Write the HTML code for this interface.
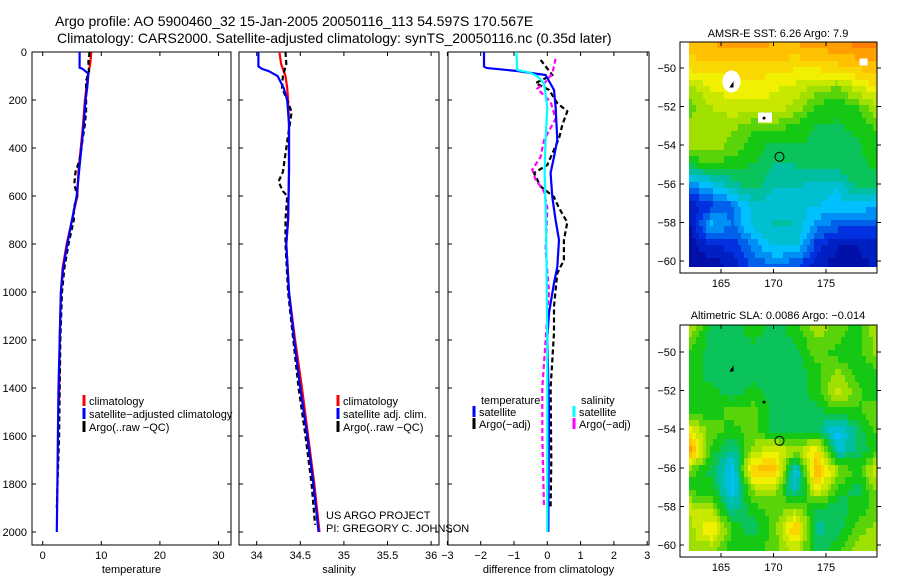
<!DOCTYPE html>
<html><head><meta charset="utf-8"><style>
body{margin:0;background:#fff}
svg{display:block;font-family:"Liberation Sans",sans-serif}
</style></head><body>
<svg id="c" width="900" height="580" xmlns="http://www.w3.org/2000/svg">
<text x="55" y="26" font-size="14">Argo profile: AO 5900460_32 15-Jan-2005 20050116_113 54.597S 170.567E</text>
<text x="57" y="43" font-size="14">Climatology: CARS2000. Satellite-adjusted climatology: synTS_20050116.nc (0.35d later)</text>
<text x="778" y="37" font-size="11" text-anchor="middle">AMSR-E SST: 6.26 Argo: 7.9</text>
<text x="778" y="319" font-size="11" text-anchor="middle">Altimetric SLA: 0.0086 Argo: −0.014</text>
<text transform="translate(893,545) rotate(-90)" font-size="11">CSIRO 05−Aug−2005 12:21:13</text>
<text x="326" y="519" font-size="11">US ARGO PROJECT</text>
<text x="326" y="532" font-size="11">PI: GREGORY C. JOHNSON</text>
</svg>
<script>
// ---------- data ----------
const depthTicks=[0,200,400,600,800,1000,1200,1400,1600,1800,2000];
const tempTicks=[0,10,20,30];
const salTicks=[34,34.5,35,35.5,36];
const diffTicks=[-3,-2,-1,0,1,2,3];
const tClimD=[0,50,100,200,300,400,500,600,700,800,900,1000,1200,1450];
const tClimV=[8.3,8.1,7.7,7.2,6.9,6.5,6.1,5.9,5.0,4.1,3.4,3.1,2.9,2.8];
const tSatD=[0,65,70,90,150,200,300,400,500,600,700,800,900,1000,1200,1400,1600,1800,2000];
const tSatV=[6.3,6.3,6.8,7.8,7.6,7.3,7.0,6.6,6.2,5.8,5.0,4.2,3.5,3.1,2.9,2.7,2.6,2.5,2.4];
const tArgD=[0,40,80,120,200,250,300,350,400,450,500,550,600,650,700,800,900,1000,1200,1400,1600,1750,1900];
const tArgV=[8.0,7.8,7.9,7.4,7.4,7.4,7.2,6.9,6.6,6.3,5.6,5.4,5.9,5.3,5.3,4.4,3.7,3.3,3.0,2.9,2.8,2.6,2.4];
const sClimD=[0,50,100,150,200,300,500,700,800,1000,1200,1400,1600,1800,2000];
const sClimV=[34.26,34.28,34.33,34.35,34.36,34.37,34.37,34.36,34.34,34.37,34.44,34.52,34.59,34.66,34.72];
const sSatD=[0,60,70,80,100,150,200,300,500,700,800,1000,1200,1400,1600,1800,2000];
const sSatV=[34.02,34.02,34.06,34.14,34.24,34.31,34.35,34.37,34.37,34.36,34.34,34.37,34.43,34.5,34.58,34.65,34.71];
const sArgD=[0,50,100,150,200,250,300,400,500,540,580,600,700,800,1000,1200,1400,1600,1800,1970];
const sArgV=[34.33,34.34,34.3,34.29,34.35,34.4,34.38,34.34,34.3,34.25,34.3,34.35,34.33,34.33,34.36,34.42,34.48,34.56,34.63,34.67];
const dTSatD=[0,60,65,67,79,96,158,229,367,437,504,604,700,783,896,963,1088,1188,1500,2000];
const dTSatV=[-1.9,-1.9,-1.85,-1.8,-0.9,-0.05,0.2,0.25,0.3,0.2,0.1,0.15,0.25,0.35,0.3,0.2,0.05,0,0.05,0.03];
const dSSatD=[0,75,85,100,130,230,370,500,650,800,1200,2000];
const dSSatV=[-0.93,-0.9,-0.55,-0.3,-0.1,0,-0.05,-0.08,-0.05,-0.03,0,0];
const dTArgD=[33,96,129,158,213,247,304,360,471,504,560,604,650,710,783,867,922,1060,1170,1400,1700,1900];
const dTArgV=[-0.2,0.15,-0.35,0.05,0.3,0.6,0.45,0.35,0,-0.4,-0.2,0.2,0.35,0.6,0.5,0.5,0.3,0.2,0.2,0.1,0.12,0.1];
const dSArgD=[28,90,125,153,208,278,367,437,490,532,580,650,825,1000,1400,1600,1900];
const dSArgV=[0.25,0.15,-0.05,-0.3,0.1,0.25,-0.1,-0.2,-0.45,-0.35,-0.1,0,-0.05,0.05,-0.15,-0.15,-0.1];
const sstGrid=[
[0.82,0.82,0.84,0.84,0.82,0.82,0.84,0.86,0.88,0.9],
[0.72,0.74,0.74,0.74,0.74,0.72,0.72,0.74,0.77,0.8],
[0.6,0.68,0.7,0.7,0.68,0.65,0.6,0.55,0.65,0.72],
[0.55,0.62,0.65,0.65,0.65,0.6,0.5,0.48,0.52,0.62],
[0.62,0.6,0.58,0.52,0.55,0.5,0.47,0.47,0.48,0.55],
[0.6,0.6,0.55,0.5,0.45,0.47,0.47,0.47,0.47,0.5],
[0.45,0.5,0.48,0.47,0.42,0.42,0.45,0.45,0.47,0.48],
[0.22,0.3,0.4,0.45,0.38,0.38,0.35,0.33,0.45,0.42],
[0.1,0.15,0.22,0.35,0.35,0.33,0.33,0.3,0.3,0.3],
[0.08,0.3,0.22,0.35,0.38,0.38,0.25,0.2,0.2,0.18],
[0.05,0.12,0.15,0.25,0.35,0.35,0.15,0.08,0.08,0.12],
[0.05,0.05,0.1,0.2,0.22,0.2,0.1,0.05,0.05,0.1]];
const slaGrid=[
[0.6,0.45,0.45,0.5,0.45,0.5,0.6,0.55,0.5,0.65],
[0.5,0.45,0.45,0.45,0.45,0.45,0.55,0.5,0.5,0.6],
[0.5,0.45,0.45,0.45,0.45,0.45,0.5,0.6,0.5,0.5],
[0.5,0.5,0.45,0.5,0.45,0.45,0.5,0.65,0.55,0.45],
[0.5,0.5,0.55,0.55,0.45,0.45,0.45,0.5,0.5,0.6],
[0.7,0.55,0.5,0.55,0.45,0.45,0.45,0.3,0.45,0.55],
[0.85,0.5,0.4,0.6,0.7,0.6,0.75,0.35,0.45,0.5],
[0.55,0.45,0.3,0.8,0.8,0.3,0.85,0.6,0.5,0.75],
[0.5,0.5,0.3,0.6,0.6,0.35,0.7,0.5,0.45,0.6],
[0.65,0.6,0.4,0.5,0.55,0.6,0.45,0.45,0.5,0.55],
[0.6,0.75,0.5,0.45,0.55,0.8,0.4,0.45,0.55,0.6],
[0.6,0.6,0.5,0.5,0.55,0.65,0.45,0.5,0.6,0.6]];
const gridLats=[-48.7,-50,-51,-52,-53,-54,-55,-56,-57,-58,-59,-60];
const gridLons=[162,164,166,168,170,172,174,176,178,180];
const lonTicks=[165,170,175];
const latTicks=[-50,-52,-54,-56,-58,-60];

// ---------- helpers ----------
const svg=document.getElementById('c');
const NS='http://www.w3.org/2000/svg';
function mk(tag,attrs,parent){const e=document.createElementNS(NS,tag);for(const k in attrs)e.setAttribute(k,attrs[k]);(parent||svg).appendChild(e);return e;}
const PT=52,PB=545,Y0=52,Y1=532;
const yD=d=>Y0+(d/2000)*(Y1-Y0);
function frame(name,x0,x1,xs,ticks,label,showY){
  const g=mk('g',{});
  
  
  const r=mk('rect',{x:x0,y:PT,width:x1-x0,height:PB-PT,fill:'none',stroke:'#000','stroke-width':1},g);
  
  
  ticks.forEach(t=>{
    const x=xs(t);
    mk('line',{x1:x,x2:x,y1:PB,y2:PB-4,stroke:'#000'},g);
    mk('line',{x1:x,x2:x,y1:PT,y2:PT+4,stroke:'#000'},g);
    const tl=mk('text',{x:x,y:559,'font-size':11,'text-anchor':'middle'},g);
    tl.textContent=String(t).replace('-','−');
    
    
  });
  depthTicks.forEach(d=>{
    const y=yD(d);
    mk('line',{x1:x0,x2:x0+4,y1:y,y2:y,stroke:'#000'},g);
    mk('line',{x1:x1,x2:x1-4,y1:y,y2:y,stroke:'#000'},g);
    if(showY){const t=mk('text',{x:27,y:y+4,'font-size':11,'text-anchor':'end'},g);t.textContent=d;
      
      }
  });
  const al=mk('text',{x:(x0+x1)/2,y:573,'font-size':11,'text-anchor':'middle'},g);
  al.textContent=label;
  
  
}
function line(xs,D,V,color,dash,name){
  const p=D.map((d,i)=>xs(V[i]).toFixed(1)+','+yD(d).toFixed(1)).join(' ');
  const e=mk('polyline',{points:p,fill:'none',stroke:color,'stroke-width':2.2,'stroke-dasharray':dash||'none'});
  
  
}
function leg(x,y,color,txt,name){
  const l=mk('line',{x1:x,x2:x,y1:y-10,y2:y+1,stroke:color,'stroke-width':3});
  
  
  const t=mk('text',{x:x+5,y:y,'font-size':11});t.textContent=txt;
  
  
}
function txt(x,y,s,name){const t=mk('text',{x:x,y:y,'font-size':11});t.textContent=s;
  
  }

const xT=v=>42.7+v*5.86;
frame('temperature-panel',32,231,xT,tempTicks,'temperature',true);
line(xT,tClimD,tClimV,'#f00',null,'temp-climatology-line');
line(xT,tArgD,tArgV,'#000','5,3','temp-argo-line');
line(xT,tSatD,tSatV,'#00f',null,'temp-satellite-line');
leg(84,405,'#f00','climatology','legend-climatology');
leg(84,418,'#00f','satellite−adjusted climatology','legend-satellite-adjusted');
leg(84,431,'#000','Argo(..raw −QC)','legend-argo');

const xS=v=>256.7+(v-34)*87.2;
frame('salinity-panel',239,439,xS,salTicks,'salinity',false);
line(xS,sClimD,sClimV,'#f00',null,'sal-climatology-line');
line(xS,sArgD,sArgV,'#000','5,3','sal-argo-line');
line(xS,sSatD,sSatV,'#00f',null,'sal-satellite-line');
leg(338,405,'#f00','climatology','legend-sal-climatology');
leg(338,418,'#00f','satellite adj. clim.','legend-sal-satellite');
leg(338,431,'#000','Argo(..raw −QC)','legend-sal-argo');

const xDf=v=>547.3+v*33.3;
frame('difference-panel',448,649,xDf,diffTicks,'difference from climatology',false);
line(xDf,dTArgD,dTArgV,'#000','5,3','diff-temp-argo-line');
line(xDf,dSArgD,dSArgV,'#f0f','5,3','diff-sal-argo-line');
line(xDf,dTSatD,dTSatV,'#00f',null,'diff-temp-satellite-line');
line(xDf,dSSatD,dSSatV,'#0ff',null,'diff-sal-satellite-line');
txt(481,404,'temperature','legend-temperature-heading');
leg(474,416,'#00f','satellite','legend-diff-temp-satellite');
leg(474,428,'#000','Argo(−adj)','legend-diff-temp-argo');
txt(581,404,'salinity','legend-salinity-heading');
leg(574,416,'#0ff','satellite','legend-diff-sal-satellite');
leg(574,428,'#f0f','Argo(−adj)','legend-diff-sal-argo');

// ---------- maps ----------
const cstops=[[0,[0,0,140]],[0.15,[0,48,224]],[0.3,[0,192,255]],[0.4,[0,190,160]],[0.5,[20,200,20]],[0.6,[160,224,0]],[0.7,[240,240,0]],[0.8,[255,192,0]],[0.9,[255,128,0]],[1,[224,64,0]]];
function cmap(v){v=Math.max(0,Math.min(1,v));for(let i=1;i<cstops.length;i++){if(v<=cstops[i][0]){const a=cstops[i-1],b=cstops[i],f=(v-a[0])/(b[0]-a[0]);return 'rgb('+a[1].map((c,k)=>Math.round(c+(b[1][k]-c)*f)).join(',')+')';}}return 'rgb(224,64,0)';}
function interp(grid,lat,lon){
  let r=0;while(r<gridLats.length-2&&lat<gridLats[r+1])r++;
  let fr=(lat-gridLats[r])/(gridLats[r+1]-gridLats[r]);fr=Math.max(0,Math.min(1,fr));
  let c=Math.min(8,Math.max(0,Math.floor((lon-162)/2)));let fc=(lon-gridLons[c])/2;fc=Math.max(0,Math.min(1,fc));
  const a=grid[r][c]*(1-fc)+grid[r][c+1]*fc,b=grid[r+1][c]*(1-fc)+grid[r+1][c+1]*fc;
  return a*(1-fr)+b*fr;
}
function map(name,top,lat50y,lat60y,grid,bottom){
  const g=mk('g',{'shape-rendering':'crispEdges'});
  
  
  const L=680,R=877;
  const xL=lon=>721+(lon-165)*10.5;
  const yL=lat=>lat50y+(-50-lat)*(lat60y-lat50y)/10;
  const latTop=-50+(lat50y-top)/((lat60y-lat50y)/10);
  for(let lat=latTop;lat>-60.3;lat-=0.33){
    for(let lon=162;lon<179.5;lon+=0.33){
      const v=Math.round(interp(grid,lat,lon)*20)/20;
      const x=Math.floor(xL(lon)),y=Math.floor(yL(lat));
      mk('rect',{x:x,y:y,width:5,height:8,fill:cmap(v)},g);
    }
  }
  mk('rect',{x:L,y:yL(-60.3),width:R-L,height:bottom-yL(-60.3),fill:'#fff'},g);
  mk('rect',{x:R,y:top,width:25,height:bottom-top,fill:'#fff'},g);
  mk('rect',{x:L-20,y:top,width:20,height:bottom-top,fill:'#fff'},g);
  const fr=mk('rect',{x:L,y:top,width:R-L,height:bottom-top,fill:'none',stroke:'#000'},g);
  
  
  lonTicks.forEach(l=>{const x=xL(l);mk('line',{x1:x,x2:x,y1:top,y2:top+4,stroke:'#000'},g);mk('line',{x1:x,x2:x,y1:bottom,y2:bottom-4,stroke:'#000'},g);
    const t=mk('text',{x:x,y:bottom+14,'font-size':11,'text-anchor':'middle'},g);t.textContent=l;
    
    });
  latTicks.forEach(l=>{const y=yL(l);mk('line',{x1:L,x2:L+4,y1:y,y2:y,stroke:'#000'},g);mk('line',{x1:R,x2:R+4,y1:y,y2:y,stroke:'#000'},g);
    const t=mk('text',{x:L-4,y:y+4,'font-size':11,'text-anchor':'end'},g);t.textContent=String(l).replace('-','−');
    
    });
  return {g,xL,yL};
}
const m1=map('sst-map',42,68,261,sstGrid,273);
mk('ellipse',{cx:m1.xL(166),cy:m1.yL(-50.7),rx:9,ry:11,fill:'#fff'},m1.g);
mk('path',{d:`M${m1.xL(165.8)} ${m1.yL(-51)} l4 -6 l0 6z`,fill:'#000'},m1.g);
mk('rect',{x:m1.xL(168.5),y:m1.yL(-52.3),width:14,height:10,fill:'#fff'},m1.g);
mk('circle',{cx:m1.xL(169.1),cy:m1.yL(-52.6),r:1.5,fill:'#000'},m1.g);
mk('rect',{x:m1.xL(178.2),y:m1.yL(-49.5),width:8,height:7,fill:'#fff'},m1.g);
const mk1=mk('circle',{cx:m1.xL(170.57),cy:m1.yL(-54.6),r:4.5,fill:'none',stroke:'#000','shape-rendering':'auto'},m1.g);


const m2=map('sla-map',325,352,545,slaGrid,557);
mk('path',{d:`M${m2.xL(165.8)} ${m2.yL(-51)} l4 -6 l0 6z`,fill:'#000'},m2.g);
mk('circle',{cx:m2.xL(169.1),cy:m2.yL(-52.6),r:1.5,fill:'#000'},m2.g);
const mk2=mk('circle',{cx:m2.xL(170.57),cy:m2.yL(-54.6),r:4.5,fill:'none',stroke:'#000','shape-rendering':'auto'},m2.g);


</script>
</body></html>
